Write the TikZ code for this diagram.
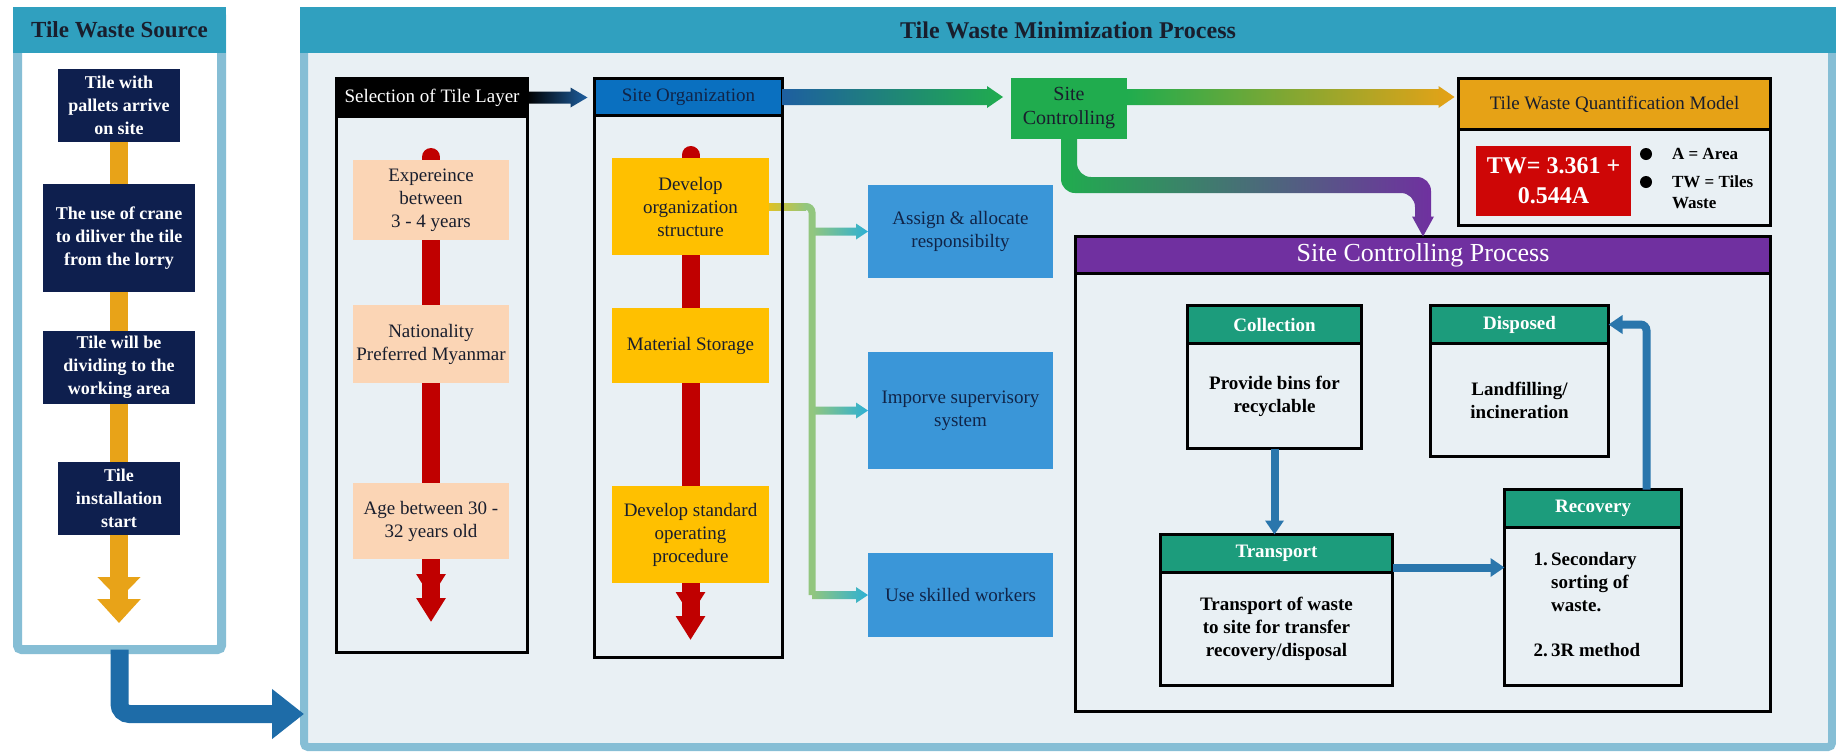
\documentclass[tikz,border=0pt]{standalone}
\usepackage{fontspec}
\setmainfont{Liberation Serif}
\usetikzlibrary{arrows.meta,calc}

\definecolor{panelBorder}{RGB}{134,190,213}
\definecolor{panelHead}{RGB}{48,160,191}
\definecolor{panelFill}{RGB}{233,240,244}
\definecolor{navyBox}{RGB}{14,31,78}
\definecolor{tileOrange}{RGB}{232,163,24}
\definecolor{outArrow}{RGB}{30,108,168}
\definecolor{orgBlue}{RGB}{10,112,192}
\definecolor{selBlue}{RGB}{30,95,160}
\definecolor{peach}{RGB}{251,213,181}
\definecolor{gold}{RGB}{255,192,0}
\definecolor{barRed}{RGB}{192,0,0}
\definecolor{boxBlue}{RGB}{58,150,216}
\definecolor{ctrlGreen}{RGB}{32,172,78}
\definecolor{modelOrange}{RGB}{230,162,22}
\definecolor{formulaRed}{RGB}{206,6,6}
\definecolor{procPurple}{RGB}{112,48,160}
\definecolor{stepGreen}{RGB}{28,156,124}
\definecolor{flowBlue}{RGB}{42,118,172}
\definecolor{branchGreen}{RGB}{146,198,126}
\definecolor{branchCyan}{RGB}{44,176,212}
\definecolor{darkText}{RGB}{25,30,45}
\definecolor{actText}{RGB}{16,36,72}

\pgfdeclarelayer{back}
\pgfdeclarelayer{links}
\pgfsetlayers{back,links,main}

% shaded straight arrow: options, start, tip, half shaft, half head, head length
\newcommand\gradarrow[6]{\shade[#1] let \p1=#2, \p2=#3 in
  (\x1,\y1+#4) -- (\x2-#6,\y1+#4) -- (\x2-#6,\y1+#5) -- (\x2,\y1) -- (\x2-#6,\y1-#5) -- (\x2-#6,\y1-#4) -- (\x1,\y1-#4) -- cycle;}

\begin{document}
\begin{tikzpicture}[x=0.5pt, y=-0.5pt,
    every node/.style={outer sep=0pt, inner sep=0pt, align=center, font=\fontsize{9.5}{11.5}\selectfont},
    panel/.style={draw=panelBorder, rounded corners=2pt},
    band/.style={fill=panelHead, text=darkText, anchor=north, minimum height=23pt, font=\bfseries\fontsize{12}{14}\selectfont},
    srcbox/.style={fill=navyBox, text=white, font=\bfseries\fontsize{9}{11.5}\selectfont},
    framebox/.style={draw=black, line width=1.5pt},
    req/.style={fill=peach, text=darkText, minimum width=78pt},
    orgstep/.style={fill=gold, text=darkText, minimum width=78.5pt},
    act/.style={fill=boxBlue, text=actText, minimum width=92.5pt},
    legend/.style={align=left, font=\bfseries\fontsize{8.5}{10.5}\selectfont},
    stephead/.style={framebox, fill=stepGreen, text=white, minimum height=19pt, font=\bfseries\fontsize{9.5}{11.5}\selectfont},
    stepbody/.style={framebox, anchor=north, font=\bfseries\fontsize{9.5}{11.5}\selectfont},
    srcflow/.style={draw=tileOrange, line width=9pt, -{Triangle[width=21pt,length=11pt,sep=0pt] Triangle[width=21pt,length=12pt]}},
    redbar/.style={draw=barRed, line width=9pt, line cap=round, -{Triangle[width=14pt,length=12pt,sep=0pt] Triangle[width=14pt,length=12pt]}},
    trunk/.style={draw=branchGreen, line width=3.5pt, rounded corners=3pt},
    flow/.style={draw=flowBlue, line width=4pt, -{Triangle[width=9pt,length=7pt]}},
    outflow/.style={draw=outArrow, line width=9pt, rounded corners=5pt, -{Triangle[width=24pt,length=16pt]}}]

\useasboundingbox (0,0) rectangle (1836,751);

\begin{pgfonlayer}{back}
\fill[white] (0,0) rectangle (1836,751);
\node[panel, fill=white, line width=4.5pt, minimum width=102pt, minimum height=319pt] (src) at (119.5,330.5) {};
\node[panel, fill=panelFill, line width=4pt, minimum width=764pt, minimum height=368pt] (main) at (1068,379) {};
\end{pgfonlayer}

\node[band, minimum width=106.5pt, font=\bfseries\fontsize{11.5}{13}\selectfont] (srcH) at (119.5,7) {Tile Waste Source};
\node[band, minimum width=768pt] (mainH) at (1068,7) {Tile Waste Minimization Process};

\node[srcbox, minimum width=61pt, minimum height=36.5pt] (sb1) at (119,105.5) {Tile with\\pallets arrive\\on site};
\node[srcbox, minimum width=76pt, minimum height=54pt] (sb2) at (119,238) {The use of crane\\to diliver the tile\\from the lorry};
\node[srcbox, minimum width=76pt, minimum height=36.5pt] (sb3) at (119,367.5) {Tile will be\\dividing to the\\working area};
\node[srcbox, minimum width=61pt, minimum height=36.5pt] (sb4) at (119,498.5) {Tile\\installation\\start};

\node[framebox, fill=black, text=white, minimum width=95.5pt, minimum height=19pt] (selH) at (432,97.5) {Selection of Tile Layer};
\node[framebox, anchor=north, minimum width=95.5pt, minimum height=267.75pt] (sel) at (selH.south) {};
\node[framebox, fill=orgBlue, text=actText, minimum width=94pt, minimum height=18.5pt] (orgH) at (688.5,97) {Site Organization};
\node[framebox, anchor=north, minimum width=94pt, minimum height=270.75pt] (org) at (orgH.south) {};

\node[req, minimum height=40pt] (ex1) at (431,200) {Expereince\\between\\3 - 4 years};
\node[req, minimum height=39pt] (ex2) at (431,344) {Nationality\\Preferred Myanmar};
\node[req, minimum height=38pt] (ex3) at (431,521) {Age between 30 -\\32 years old};

\node[orgstep, minimum height=48.5pt] (or1) at (690.5,206.5) {Develop\\organization\\structure};
\node[orgstep, minimum height=37.5pt] (or2) at (690.5,345.5) {Material Storage};
\node[orgstep, minimum height=48.5pt] (or3) at (690.5,534.5) {Develop standard\\operating\\procedure};

\node[act, minimum height=46.5pt] (as) at (960.5,231.5) {Assign \& allocate\\responsibilty};
\node[act, minimum height=58.5pt] (im) at (960.5,410.5) {Imporve supervisory\\system};
\node[act, minimum height=42pt] (us) at (960.5,595) {Use skilled workers};

\node[fill=ctrlGreen, text=darkText, minimum width=58pt, minimum height=30.5pt, font=\fontsize{10}{12}\selectfont] (sc) at (1069,108.5) {Site\\Controlling};

\node[framebox, fill=modelOrange, text=darkText, minimum width=156pt, minimum height=25.5pt] (twH) at (1614.5,104) {Tile Waste Quantification Model};
\node[framebox, anchor=north, minimum width=156pt, minimum height=48pt] (tw) at (twH.south) {};
\node[fill=formulaRed, text=white, minimum width=77.5pt, minimum height=35pt, font=\bfseries\fontsize{12}{15}\selectfont] (fm) at (1553.5,181) {TW= 3.361 +\\0.544A};
\node[legend, anchor=west] (lgA) at (1672,154) {A = Area};
\node[legend, anchor=north west] (lgB) at (1672,176) {TW = Tiles\\Waste};
\fill ([xshift=-13pt]lgA.west) circle (3pt);
\fill ([xshift=-13pt, yshift=-3pt]lgB.north west) circle (3pt);

\node[framebox, fill=procPurple, text=white, minimum width=347.5pt, minimum height=18.5pt, font=\fontsize{13}{15}\selectfont] (scpH) at (1423,255) {Site Controlling Process};
\node[framebox, anchor=north, minimum width=347.5pt, minimum height=219pt] (scp) at (scpH.south) {};

\node[stephead, minimum width=87pt] (colH) at (1274.5,324.5) {Collection};
\node[stepbody, minimum width=87pt, minimum height=52.5pt] (col) at (colH.south) {Provide bins for\\recyclable};
\node[stephead, minimum width=89pt] (disH) at (1519.5,324.5) {Disposed};
\node[stepbody, minimum width=89pt, minimum height=56.5pt] (dis) at (disH.south) {Landfilling/\\incineration};
\node[stephead, minimum width=116pt] (traH) at (1276.5,553.5) {Transport};
\node[stepbody, minimum width=116pt, minimum height=56.5pt] (tra) at (traH.south) {Transport of waste\\to site for transfer\\recovery/disposal};
\node[stephead, minimum width=88.5pt] (recH) at (1593,508.5) {Recovery};
\node[stepbody, minimum width=88.5pt, minimum height=79pt] (rec) at (recH.south)
  {\begin{tabular}{@{}l@{\,}l@{\hspace{6pt}}}1. & Secondary\\ & sorting of\\ & waste.\\[11pt] 2. & 3R method\end{tabular}};

\coordinate (fork) at ([xshift=21.5pt]or1.east);

\begin{pgfonlayer}{links}
\draw[srcflow] (sb1.center) -- ($(sb4.south)+(0,88)$);
\draw[redbar] ([yshift=1.5pt]ex1.north) -- ($(ex3.south)+(0,63)$);
\draw[redbar] ([yshift=1.5pt]or1.north) -- ($(or3.south)+(0,57)$);
\draw[trunk] (or1.east) -| (fork |- us.west);
\shade[left color=gold!70!branchGreen, right color=branchGreen] let \p1=(or1.east), \p2=(fork) in
  (\x1,\y1-1.75pt) rectangle (\x2-3pt,\y1+1.75pt);
\draw[outflow] (src.south) |- ([yshift=16.5pt]main.south west);
\end{pgfonlayer}

\gradarrow{left color=black, right color=selBlue}{(selH.east)}{([xshift=-3.5pt]orgH.west)}{3pt}{5pt}{8.5pt}
\gradarrow{left color=selBlue, right color=ctrlGreen}{(orgH.east)}{([xshift=-4pt]sc.west)}{4pt}{5.5pt}{8pt}
\gradarrow{left color=ctrlGreen, right color=modelOrange}{(sc.east |- orgH.east)}{([xshift=-2pt]twH.west)}{4pt}{5.5pt}{8pt}
\foreach \t in {as,im,us}{
  \gradarrow{left color=branchGreen, right color=branchCyan}{(fork |- \t.west)}{(\t.west)}{2pt}{4pt}{6pt}
}

\shade[left color=ctrlGreen, right color=procPurple] let \p1=(sc.south), \p2=(scpH.north), \p3=($(sc.south)+(0,46)$) in
  (\x1-4pt,\y1) [rounded corners=7pt] -- (\x1-4pt,\y3-4pt) -- (\x2-4pt,\y3-4pt) [sharp corners] -- (\x2-4pt,\y2+10pt)
  -- (\x2-5.5pt,\y2+10pt) -- (\x2,\y2) -- (\x2+5.5pt,\y2+10pt) -- (\x2+4pt,\y2+10pt) [rounded corners=7pt]
  -- (\x2+4pt,\y3+4pt) -- (\x1+4pt,\y3+4pt) [sharp corners] -- (\x1+4pt,\y1) -- cycle;

\draw[flow] (col.south) -- (col.south |- traH.north);
\draw[flow] ([yshift=-16.5pt]traH.north east) -- ([yshift=-16.5pt]traH.north east -| recH.west);
\draw[flow, rounded corners=3pt] ([xshift=-17.5pt]recH.north east) |- (disH.east);
\end{tikzpicture}
\end{document}
